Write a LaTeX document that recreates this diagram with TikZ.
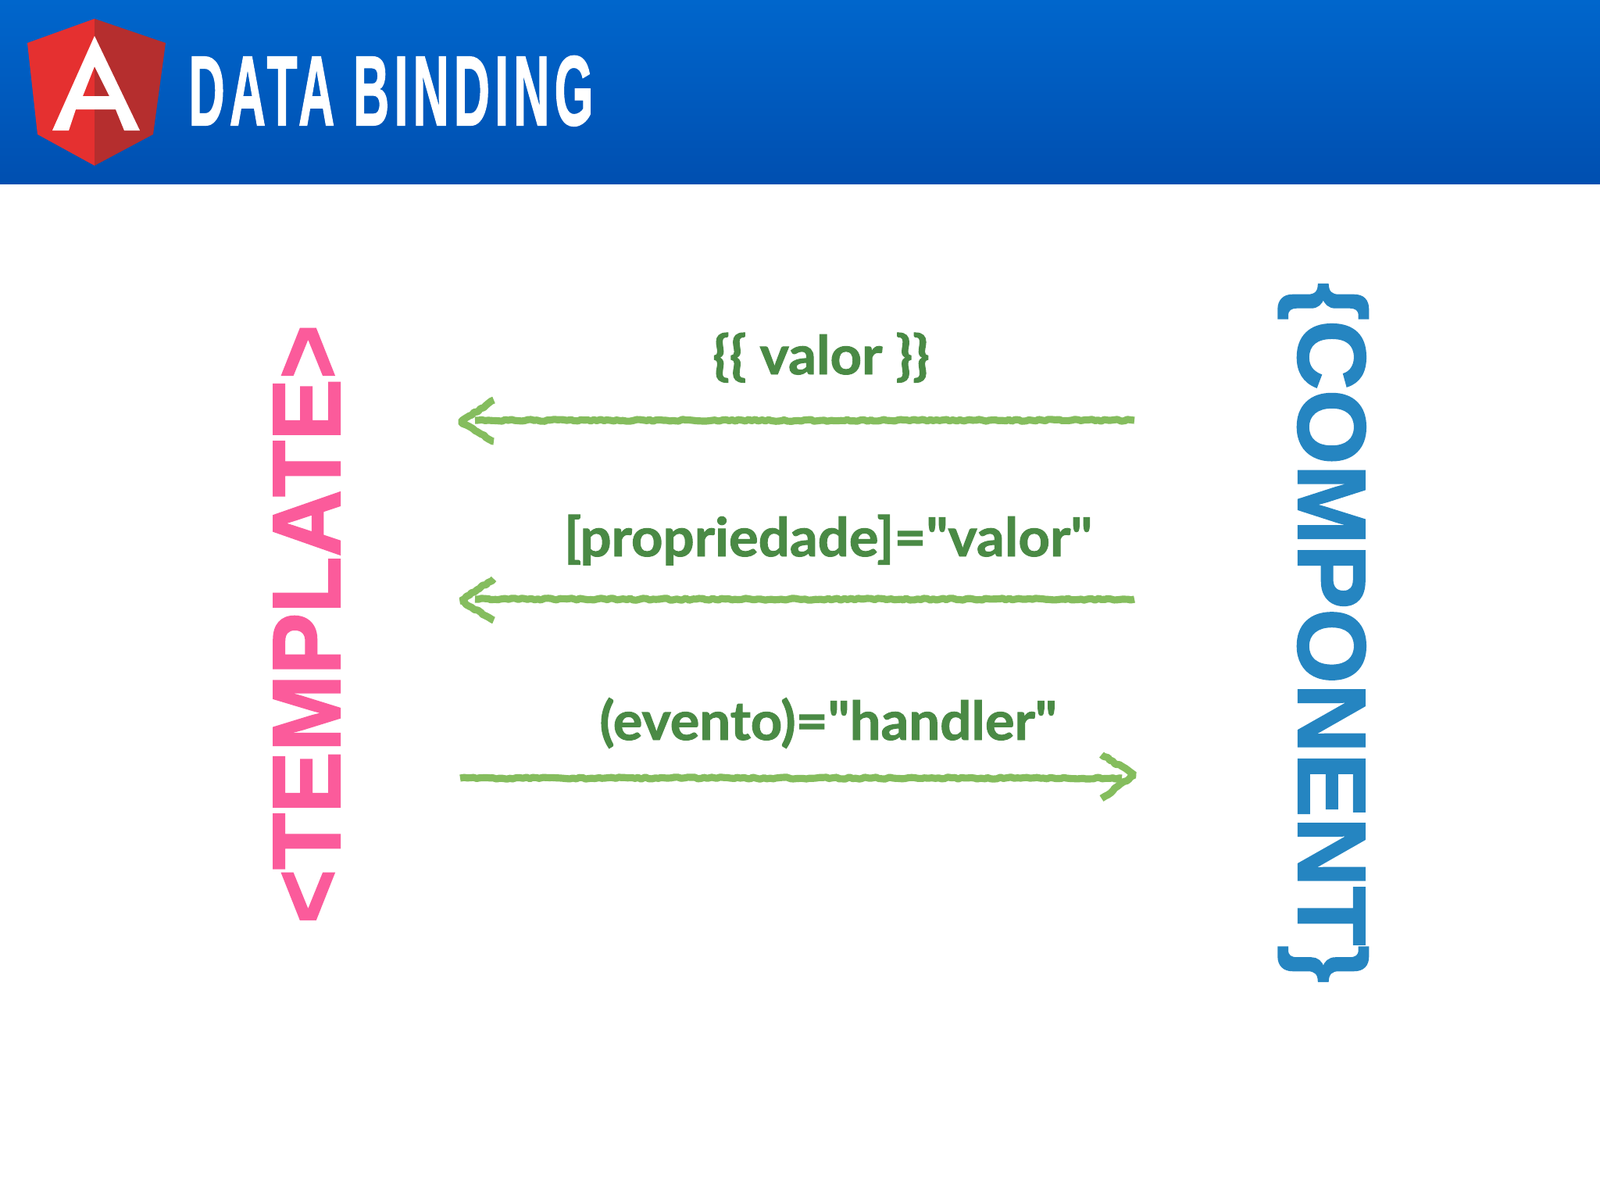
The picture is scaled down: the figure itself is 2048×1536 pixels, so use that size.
\documentclass[tikz,border=0pt]{standalone}
\usepackage{fontspec}
\setmainfont{Liberation Sans}
\newfontfamily\labelfont[BoldFeatures={FakeBold=1.4}]{Lato}
\newfontfamily\heavyfont[BoldFeatures={FakeBold=1.8}]{Liberation Sans}
\newfontfamily\titlefont[LetterSpace=10,BoldFeatures={FakeBold=1.6}]{Liberation Sans}
\usetikzlibrary{decorations.pathmorphing}
\definecolor{bannertop}{HTML}{0066CC}
\definecolor{bannerbot}{HTML}{004FB0}
\definecolor{shieldred}{HTML}{E53030}
\definecolor{shielddark}{HTML}{B52E2E}
\definecolor{labelgreen}{HTML}{4A8A45}
\definecolor{chalkgreen}{HTML}{85BD5E}
\definecolor{templatepink}{HTML}{FB5B9B}
\definecolor{componentblue}{HTML}{2585C1}
\tikzset{
    chalk/.style={draw=chalkgreen,line width=2.6pt,line join=bevel,
        decorate,decoration={random steps,segment length=1.2pt,amplitude=0.35pt}},
    bindlabel/.style={text=labelgreen,font=\labelfont\bfseries\fontsize{19.5}{22}\selectfont,anchor=base,inner sep=0pt},
    sidelabel/.style={font=\heavyfont\bfseries\fontsize{35}{38}\selectfont,inner sep=0pt,anchor=base}
}
\begin{document}
\begin{tikzpicture}[x=0.01cm,y=-0.01cm]
    \useasboundingbox (0,0) rectangle (2048,1536);
    \fill[white] (0,0) rectangle (2048,1536);
    \shade[top color=bannertop,bottom color=bannerbot] (0,0) rectangle (2048,235);

    % shield
    \fill[shieldred] (121,24) -- (35,55) -- (48,172) -- (121,212) -- cycle;
    \fill[shielddark] (121,24) -- (212,55) -- (196,172) -- (121,212) -- cycle;
    \fill[white,even odd rule] (121,46) -- (67,167) -- (88,167) -- (97,140) -- (148,140) -- (159,167) -- (179,167) -- cycle
        (121,85) -- (106,123) -- (140,123) -- cycle;
    \node[text=white,anchor=base west,inner sep=0pt,font=\titlefont\bfseries\fontsize{36}{38}\selectfont] (title) at (241,160) {\scalebox{0.503}[1]{DATA BINDING}};

    \node[sidelabel,text=templatepink,rotate=90] (template) at (435,799) {\scalebox{0.96}[1]{<TEMPLATE>}};
    \node[sidelabel,text=componentblue,rotate=-90] (component) at (1662,810) {\{COMPONENT\}};

    \node[bindlabel] (interp) at (1051,479) {\scalebox{1.03}[1]{\{\{ valor \}\}}};
    \node[bindlabel] (prop) at (1060,712) {\scalebox{1.03}[1]{[propriedade]="valor"}};
    \node[bindlabel] (event) at (1060,947) {\scalebox{1.03}[1]{(evento)="handler"}};

    \coordinate (interpR) at (1452,538);
    \coordinate (interpL) at (608,538);
    \coordinate (interpT) at (590,540);
    \coordinate (propR) at (1452,767);
    \coordinate (propL) at (608,767);
    \coordinate (propT) at (590,769);
    \coordinate (eventL) at (589,996);
    \coordinate (eventR) at (1436,996);
    \coordinate (eventT) at (1452,992);

    \draw[chalk] (interpR) -- (interpL);
    \draw[chalk] ([shift={(42,-28)}]interpT) -- (interpT) -- ([shift={(42,25)}]interpT);
    \draw[chalk] (propR) -- (propL);
    \draw[chalk] ([shift={(42,-28)}]propT) -- (propT) -- ([shift={(42,25)}]propT);
    \draw[chalk] (eventL) -- (eventR);
    \draw[chalk] ([shift={(-42,-26)}]eventT) -- (eventT) -- ([shift={(-42,30)}]eventT);
\end{tikzpicture}
\end{document}
